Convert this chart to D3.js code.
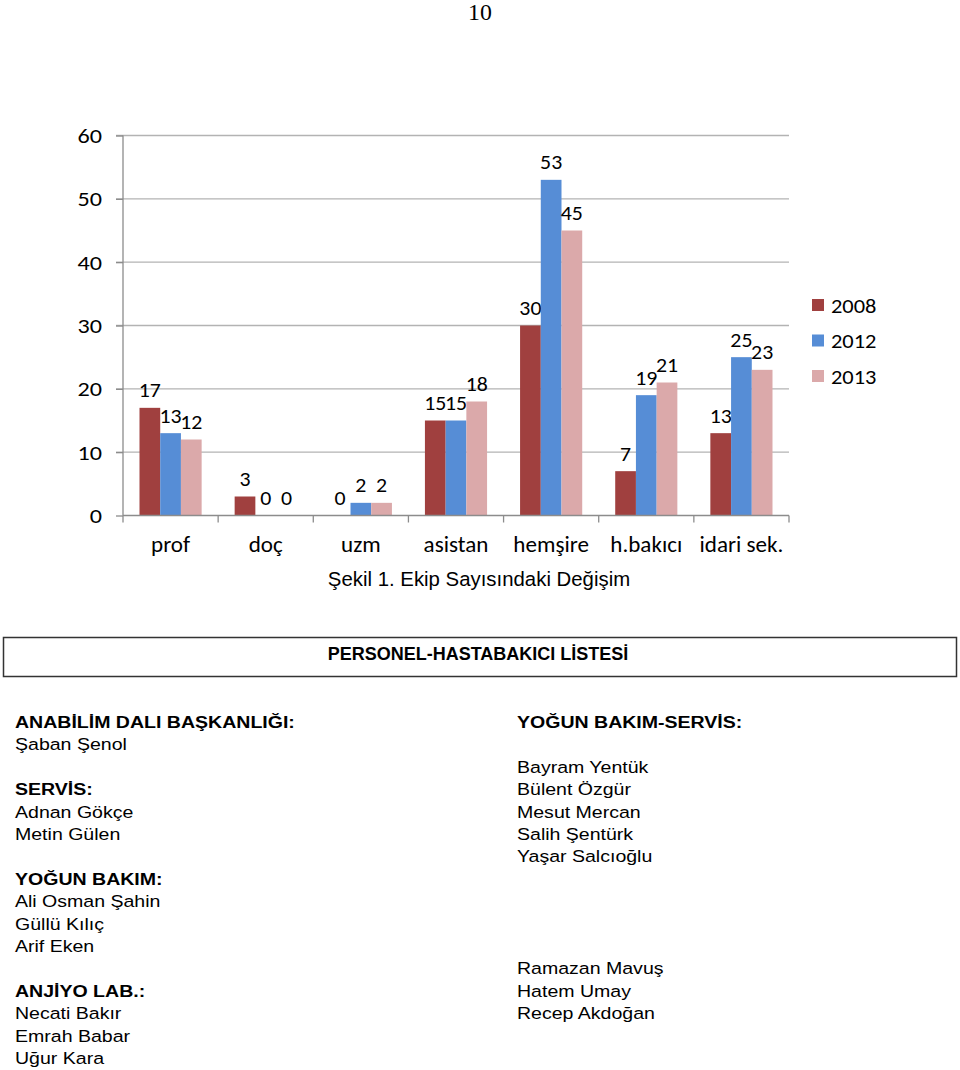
<!DOCTYPE html>
<html><head><meta charset="utf-8">
<script src="https://cdn.jsdelivr.net/npm/d3@7"></script>
<style>body{margin:0;background:#fff}svg{display:block}</style>
</head><body>
<script>
const categories = ["prof","doç","uzm","asistan","hemşire","h.bakıcı","idari sek."];
const seriesNames = ["2008","2012","2013"];
const values2008 = [17,3,0,15,30,7,13];
const values2012 = [13,0,2,15,53,19,25];
const values2013 = [12,0,2,18,45,21,23];
const yTicks = [0,10,20,30,40,50,60];
const colors = ["#A0403F","#568DD6","#DBA9AA"];
const leftLines = [
  {t:"ANABİLİM DALI BAŞKANLIĞI:",b:true},{t:"Şaban Şenol"},{t:""},
  {t:"SERVİS:",b:true},{t:"Adnan Gökçe"},{t:"Metin Gülen"},{t:""},
  {t:"YOĞUN BAKIM:",b:true},{t:"Ali Osman Şahin"},{t:"Güllü Kılıç"},{t:"Arif Eken"},{t:""},
  {t:"ANJİYO LAB.:",b:true},{t:"Necati Bakır"},{t:"Emrah Babar"},{t:"Uğur Kara"}];
const rightLines = [
  {t:"YOĞUN BAKIM-SERVİS:",b:true},{t:""},{t:"Bayram Yentük"},{t:"Bülent Özgür"},{t:"Mesut Mercan"},
  {t:"Salih Şentürk"},{t:"Yaşar Salcıoğlu"},{t:""},{t:""},{t:""},{t:""},
  {t:"Ramazan Mavuş"},{t:"Hatem Umay"},{t:"Recep Akdoğan"}];

const series = [values2008, values2012, values2013];
const W = 960, H = 1070;
const svg = d3.select("body").append("svg").attr("width",W).attr("height",H);
const chartFont = "Carlito, Calibri, Lato, sans-serif";
const arial = "Arial, 'Liberation Sans', sans-serif";

function stext(parent, x, y, txt, opts){
  const o = Object.assign({size:16, sx:1, anchor:"start", family:arial, weight:"normal", fill:"#000"}, opts||{});
  return parent.append("text")
    .attr("transform",`translate(${x},${y}) scale(${o.sx},1)`)
    .attr("text-anchor",o.anchor).attr("font-family",o.family)
    .attr("font-size",o.size).attr("font-weight",o.weight).attr("fill",o.fill).text(txt);
}

stext(svg,480,20,"10",{size:22.5,sx:1.06,anchor:"middle",family:"'Times New Roman','Liberation Serif',serif"});

const x0 = d3.scaleBand().domain(categories).range([123,789]).padding(0);
const x1 = d3.scaleBand().domain(seriesNames).range([16.5, x0.bandwidth()-16.5]).padding(0);
const y = d3.scaleLinear().domain([0,60]).range([515.5,135.5]);

// gridlines
svg.append("g").selectAll("line").data(yTicks.filter(d=>d>0)).join("line")
  .attr("x1",116).attr("x2",789).attr("y1",d=>y(d)).attr("y2",d=>y(d))
  .attr("stroke","#b3b3b3").attr("stroke-width",1.3);

// y axis
const yAxis = svg.append("g").attr("transform","translate(123,0)")
  .call(d3.axisLeft(y).tickValues(yTicks).tickSize(7).tickFormat(""));
yAxis.select(".domain").attr("stroke","#8c8c8c").attr("stroke-width",1.3).attr("d","M0,135.5V515.5");
yAxis.selectAll(".tick line").attr("stroke","#8c8c8c").attr("stroke-width",1.3);
yTicks.forEach(t=>stext(svg,102,y(t)+7.5,String(t),{size:21,sx:1.15,anchor:"end",family:chartFont}));

// bars
const g = svg.append("g");
categories.forEach((c,i)=>{
  seriesNames.forEach((s,j)=>{
    const v = series[j][i];
    const bx = x0(c)+x1(s);
    g.append("rect").attr("x",bx).attr("y",y(v)).attr("width",x1.bandwidth())
      .attr("height",y(0)-y(v)).attr("fill",colors[j]);
    stext(g,bx+x1.bandwidth()/2,y(v)-10.5,String(v),{size:19.5,sx:1.12,anchor:"middle",family:chartFont});
  });
});

// x axis
const xAxis = svg.append("g").attr("transform","translate(0,515.5)");
xAxis.append("line").attr("x1",123).attr("x2",789).attr("stroke","#8c8c8c").attr("stroke-width",1.3);
const bounds = categories.map(c=>x0(c)).concat([x0(categories[categories.length-1])+x0.bandwidth()]);
xAxis.selectAll("line.tk").data(bounds).join("line").attr("class","tk")
  .attr("x1",d=>d).attr("x2",d=>d).attr("y1",0).attr("y2",7).attr("stroke","#8c8c8c").attr("stroke-width",1.3);
categories.forEach(c=>stext(svg,x0(c)+x0.bandwidth()/2,551.5,c,{size:22,sx:1.05,anchor:"middle",family:chartFont}));

// legend
seriesNames.forEach((s,j)=>{
  svg.append("rect").attr("x",812).attr("y",299+j*35.5).attr("width",12).attr("height",12).attr("fill",colors[j]);
  stext(svg,831,312.5+j*35.5,s,{size:19.5,sx:1.15,family:chartFont});
});

// caption
stext(svg,479,586,"Şekil 1. Ekip Sayısındaki Değişim",{size:19.5,sx:1.045,anchor:"middle"});

// box
svg.append("rect").attr("x",3.5).attr("y",637.5).attr("width",953).attr("height",39)
  .attr("fill","none").attr("stroke","#333").attr("stroke-width",1.5);
stext(svg,478,660,"PERSONEL-HASTABAKICI LİSTESİ",{size:18,weight:"bold",anchor:"middle"});

function col(lines,x){
  lines.forEach((d,i)=>{ if(d.t) stext(svg,x,728+i*22.4,d.t,{size:17,sx:1.15,weight:d.b?"bold":"normal"}); });
}
col(leftLines,15);
col(rightLines,517);
</script>
</body></html>
